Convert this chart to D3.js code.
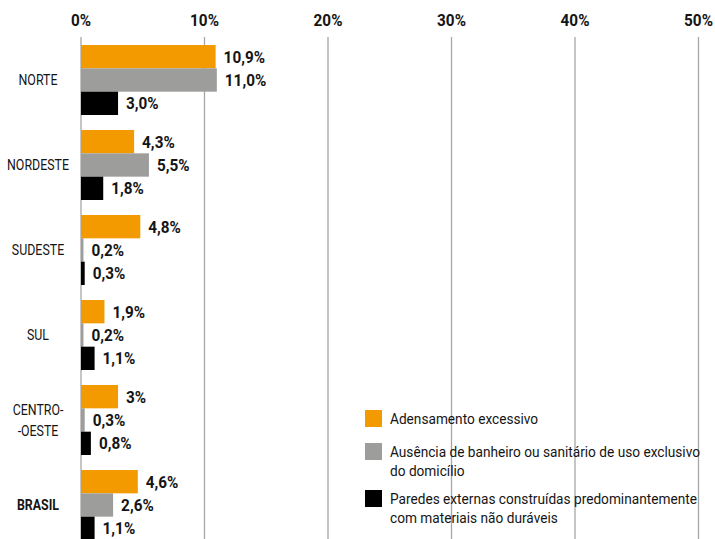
<!DOCTYPE html>
<html><head><meta charset="utf-8">
<script src="https://cdn.jsdelivr.net/npm/d3@7"></script>
<style>
body{margin:0;background:#fff;}
svg{display:block;font-family:"Roboto","Liberation Sans",sans-serif;}
</style></head>
<body><svg id="c" width="715" height="539"></svg>
<script>
const categories = ["NORTE","NORDESTE","SUDESTE","SUL","CENTRO-OESTE","BRASIL"];
const categoryLines = [["NORTE"],["NORDESTE"],["SUDESTE"],["SUL"],["CENTRO-","-OESTE"],["BRASIL"]];
const seriesNames = ["Adensamento excessivo","Ausência de banheiro ou sanitário de uso exclusivo do domicílio","Paredes externas construídas predominantemente com materiais não duráveis"];
const legendLines = [["Adensamento excessivo"],["Ausência de banheiro ou sanitário de uso exclusivo","do domicílio"],["Paredes externas construídas predominantemente","com materiais não duráveis"]];
const adensamento = [10.9,4.3,4.8,1.9,3,4.6];
const banheiro = [11.0,5.5,0.2,0.2,0.3,2.6];
const paredes = [3.0,1.8,0.3,1.1,0.8,1.1];
const adensamentoLabels = ["10,9%","4,3%","4,8%","1,9%","3%","4,6%"];
const banheiroLabels = ["11,0%","5,5%","0,2%","0,2%","0,3%","2,6%"];
const paredesLabels = ["3,0%","1,8%","0,3%","1,1%","0,8%","1,1%"];
const ticks = [0,10,20,30,40,50];
const tickLabels = ["0%","10%","20%","30%","40%","50%"];
const colors = ["#F39A00","#9D9D9C","#000000"];

const series = [adensamento,banheiro,paredes];
const seriesLabels = [adensamentoLabels,banheiroLabels,paredesLabels];

const svg = d3.select("#c");
const x = d3.scaleLinear().domain([0,50]).range([81,698.5]);
const y0 = d3.scaleBand().domain(categories).range([45,540]).paddingInner(15/85).paddingOuter(0);
const y1 = d3.scaleBand().domain([0,1,2]).range([0,y0.bandwidth()]);

// condensed text helper
function ctext(parent, px, py, sx, str, opts){
  const g = parent.append("g").attr("transform",`translate(${px},${py}) scale(${sx},1)`);
  const t = g.append("text").attr("x",0).attr("y",0).attr("fill","#151515")
    .attr("font-size",opts.size).attr("font-weight",opts.weight||"normal")
    .attr("text-anchor",opts.anchor||"start").text(str);
  return t;
}

// gridlines
svg.append("g").selectAll("line").data(ticks).join("line")
  .attr("x1",d=>x(d)).attr("x2",d=>x(d)).attr("y1",37).attr("y2",539)
  .attr("stroke","#a6a6a6").attr("stroke-width",1.3);

// top axis labels
const axisG = svg.append("g");
ticks.forEach((d,i)=>ctext(axisG, x(d), 26, 0.9, tickLabels[i], {size:17, weight:"bold", anchor:"middle"}));

// bars
categories.forEach((cat,ci)=>{
  const top = y0(cat);
  const g = svg.append("g");
  series.forEach((s,si)=>{
    g.append("rect").attr("x",x(0)).attr("y",top+y1(si))
      .attr("width",x(s[ci])-x(0)).attr("height",y1.bandwidth())
      .attr("fill",colors[si]);
    ctext(g, x(s[ci])+8, top+y1(si)+y1.bandwidth()/2+6, 0.9, seriesLabels[si][ci], {size:17, weight:"bold"});
  });
  const lines = categoryLines[ci];
  const cy = top+y0.bandwidth()/2;
  lines.forEach((l,li)=>{
    ctext(g, 38, cy+5+(li-(lines.length-1)/2)*21, 0.8, l, {size:15.5, weight: cat==="BRASIL"?"bold":"normal", anchor:"middle"});
  });
});

// legend
const legY = [410,443,490];
const legG = svg.append("g");
legendLines.forEach((lines,i)=>{
  legG.append("rect").attr("x",365).attr("y",legY[i]).attr("width",17).attr("height",17).attr("fill",colors[i]);
  lines.forEach((l,li)=>{
    ctext(legG, 390, legY[i]+14+li*19, 0.9, l, {size:15.2});
  });
});
</script></body></html>
